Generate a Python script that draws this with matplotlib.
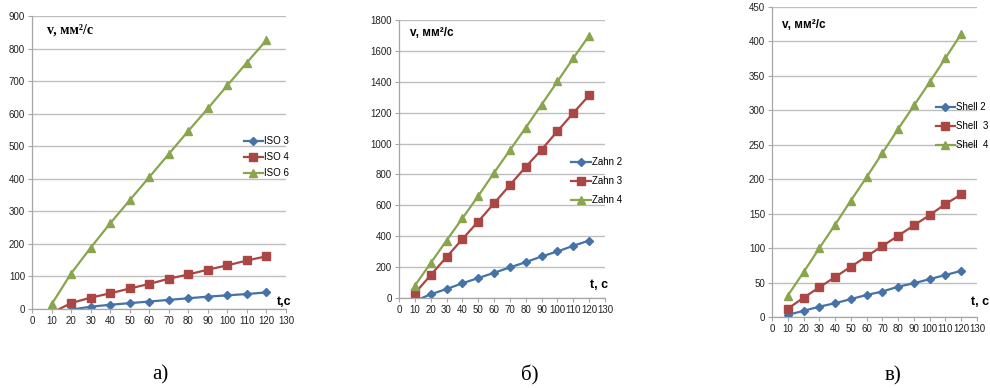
import matplotlib
matplotlib.use("Agg")
import matplotlib.pyplot as plt
from matplotlib.ticker import MultipleLocator

t = [10, 20, 30, 40, 50, 60, 70, 80, 90, 100, 110, 120]

iso3 = [-12, -2, 7, 13, 18, 23, 28, 33, 38, 42, 46, 51]
iso4 = [-12, 18, 35, 48, 63, 77, 93, 106, 121, 134, 149, 162]
iso6 = [14, 109, 188, 263, 334, 405, 476, 547, 616, 687, 757, 826]

zahn2 = [-20, 24, 58, 95, 129, 163, 198, 232, 269, 301, 338, 372]
zahn3 = [30, 148, 265, 381, 495, 613, 731, 849, 961, 1080, 1198, 1312]
zahn4 = [80, 226, 372, 516, 660, 811, 957, 1103, 1252, 1402, 1553, 1699]

shell2 = [3, 9, 15, 20, 26, 32, 37, 44, 49, 55, 61, 67]
shell3 = [12, 28, 43, 58, 73, 88, 103, 118, 133, 148, 164, 178]
shell4 = [31, 65, 100, 134, 169, 203, 238, 273, 307, 341, 376, 411]

labels_a = ["ISO 3", "ISO 4", "ISO 6"]
labels_b = ["Zahn 2", "Zahn 3", "Zahn 4"]
labels_c = ["Shell 2", "Shell  3", "Shell  4"]
panel_titles = ["а)", "б)", "в)"]

BLUE = "#4572A7"
RED = "#AA4643"
GREEN = "#89A54E"
colors = [BLUE, RED, GREEN]
markers = ["D", "s", "^"]
msizes = [4.0, 5.6, 6.2]

fig = plt.figure(figsize=(9.9, 3.88), dpi=100)

panels = [
    dict(rect=[0.0323, 0.2036, 0.2566, 0.7552], series=[iso3, iso4, iso6], labels=labels_a,
         ymax=900, ystep=100, leg=(0.246, 1 - 136 / 388), ls=0.62,
         ylab=(47 / 990, 1 - 30 / 388), yfont=dict(family="Liberation Serif", size=10, weight="bold"),
         ylab_text="v, мм²/с", tlab=(277 / 990, 1 - 302 / 388), tlab_text="t,c",
         ptitle=(160 / 990, 1 - 375 / 388)),
    dict(rect=[0.4030, 0.2320, 0.2081, 0.7165], series=[zahn2, zahn3, zahn4], labels=labels_b,
         ymax=1800, ystep=200, leg=(0.577, 1 - 157 / 388), ls=0.95,
         ylab=(410 / 990, 1 - 33 / 388), yfont=dict(family="Liberation Sans", size=8.5, weight="bold"),
         ylab_text="v, мм²/с", tlab=(590 / 990, 1 - 285 / 388), tlab_text="t, c",
         ptitle=(530 / 990, 1 - 375 / 388)),
    dict(rect=[0.7798, 0.1830, 0.2071, 0.7990], series=[shell2, shell3, shell4], labels=labels_c,
         ymax=450, ystep=50, leg=(0.945, 1 - 102 / 388), ls=0.95,
         ylab=(782 / 990, 1 - 25 / 388), yfont=dict(family="Liberation Sans", size=8.5, weight="bold"),
         ylab_text="v, мм²/с", tlab=(971 / 990, 1 - 302 / 388), tlab_text="t, c",
         ptitle=(893 / 990, 1 - 376 / 388)),
]

for i, p in enumerate(panels):
    ax = fig.add_axes(p["rect"])
    for s, lab, c, m, ms in zip(p["series"], p["labels"], colors, markers, msizes):
        ax.plot(t, s, color=c, lw=1.6, marker=m, markersize=ms,
                markeredgecolor=c, markerfacecolor=c, label=lab)
    ax.set_xlim(0, 130)
    ax.set_ylim(0, p["ymax"])
    ax.xaxis.set_major_locator(MultipleLocator(10))
    ax.yaxis.set_major_locator(MultipleLocator(p["ystep"]))
    ax.grid(axis="y", color="#BEBEBE", lw=1.0)
    ax.set_axisbelow(True)
    for sp in ["top", "right"]:
        ax.spines[sp].set_visible(False)
    for sp in ["left", "bottom"]:
        ax.spines[sp].set_color("#A6A6A6")
        ax.spines[sp].set_linewidth(0.9)
    ax.tick_params(axis="both", labelsize=7, colors="#A6A6A6", labelcolor="#222222",
                   length=3, width=0.8, pad=2)
    for lbl in ax.get_xticklabels() + ax.get_yticklabels():
        lbl.set_family("Liberation Sans")
    ax.legend(loc="upper left", bbox_to_anchor=p["leg"], bbox_transform=fig.transFigure,
              frameon=False, handlelength=2.0, handletextpad=0.1,
              labelspacing=p["ls"], borderpad=0, borderaxespad=0,
              prop=dict(family="Liberation Sans", size=7))
    fig.text(p["ylab"][0], p["ylab"][1], p["ylab_text"], ha="left", va="center",
             **p["yfont"])
    fig.text(p["tlab"][0], p["tlab"][1], p["tlab_text"], ha="left", va="center",
             family="Liberation Sans", size=9, weight="bold")
    fig.text(p["ptitle"][0], p["ptitle"][1], panel_titles[i], ha="center",
             va="center", family="Liberation Serif", size=15)

fig.savefig("out.png", dpi=100)
